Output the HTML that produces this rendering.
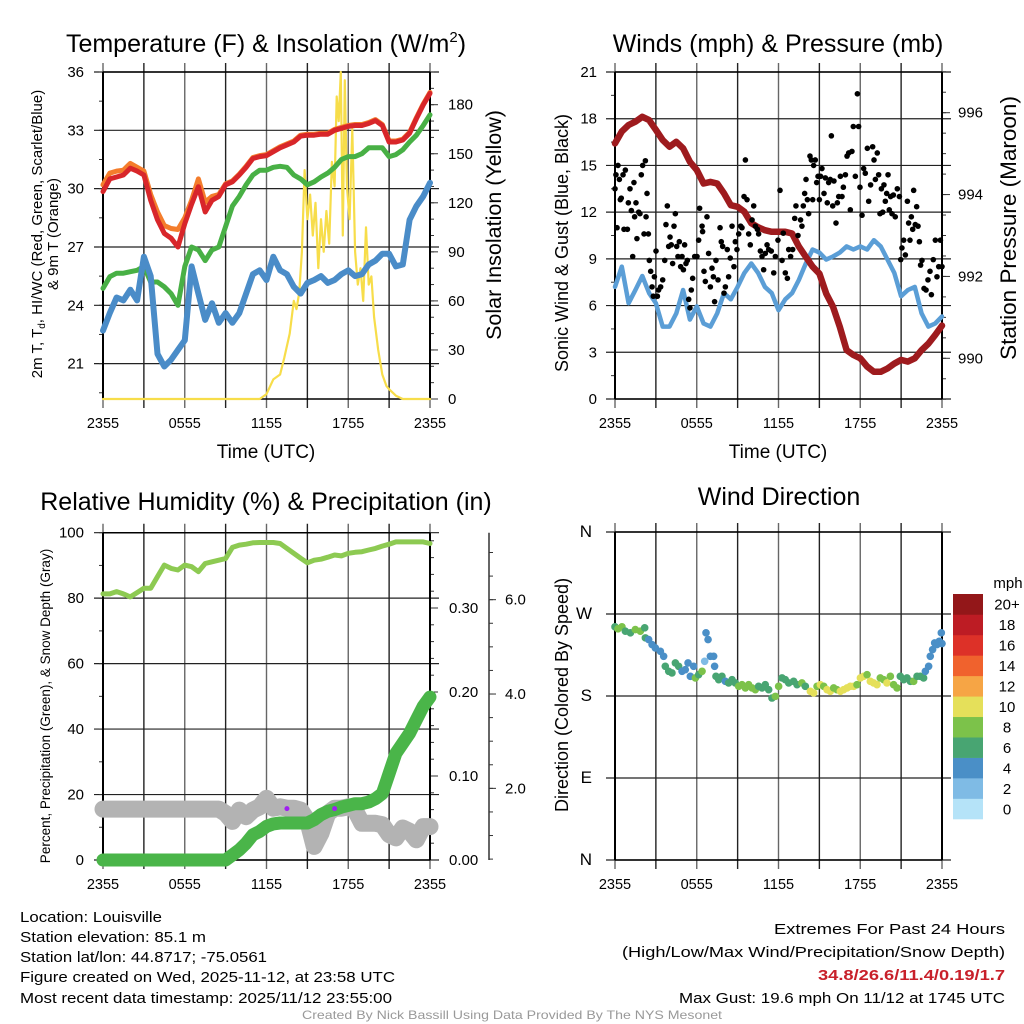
<!DOCTYPE html>
<html><head><meta charset="utf-8"><style>
html,body{margin:0;padding:0;background:#fff;}
svg{display:block;font-family:"Liberation Sans",Arial,sans-serif;}
</style></head><body>
<svg id="chart" width="1024" height="1024" viewBox="0 0 1024 1024" xmlns="http://www.w3.org/2000/svg">
<g id="bg"></g>
<text x="266" y="52" font-size="25" text-anchor="middle">Temperature (F) &amp; Insolation (W/m<tspan font-size="15" dy="-10">2</tspan><tspan dy="10">)</tspan></text>
<text x="778" y="52" font-size="25" text-anchor="middle">Winds (mph) &amp; Pressure (mb)</text>
<text x="266" y="510" font-size="25" text-anchor="middle">Relative Humidity (%) &amp; Precipitation (in)</text>
<text x="779" y="505" font-size="25" text-anchor="middle">Wind Direction</text>
<text transform="translate(42,234) rotate(-90)" font-size="15" text-anchor="middle">2m T, T<tspan font-size="10" dy="3">d</tspan><tspan dy="-3">, HI/WC (Red, Green, Scarlet/Blue)</tspan></text>
<text transform="translate(58,234) rotate(-90)" font-size="15" text-anchor="middle">&amp; 9m T (Orange)</text>
<text transform="translate(501,225) rotate(-90)" font-size="21.5" text-anchor="middle">Solar Insolation (Yellow)</text>
<text transform="translate(568,243) rotate(-90)" font-size="18" text-anchor="middle">Sonic Wind &amp; Gust (Blue, Black)</text>
<text transform="translate(1016,228) rotate(-90)" font-size="22.5" text-anchor="middle">Station Pressure (Maroon)</text>
<text transform="translate(50,706) rotate(-90)" font-size="13.5" text-anchor="middle">Percent, Precipitation (Green), &amp; Snow Depth (Gray)</text>
<text transform="translate(568,695) rotate(-90)" font-size="18" text-anchor="middle">Direction (Colored By Speed)</text>
<text x="266" y="458" font-size="19" text-anchor="middle">Time (UTC)</text>
<text x="778" y="458" font-size="19" text-anchor="middle">Time (UTC)</text>
<g font-size="14.5">
<text x="20" y="922" textLength="142" lengthAdjust="spacingAndGlyphs">Location: Louisville</text>
<text x="20" y="942" textLength="186" lengthAdjust="spacingAndGlyphs">Station elevation: 85.1 m</text>
<text x="20" y="962" textLength="247" lengthAdjust="spacingAndGlyphs">Station lat/lon: 44.8717; -75.0561</text>
<text x="20" y="982" textLength="375" lengthAdjust="spacingAndGlyphs">Figure created on Wed, 2025-11-12, at 23:58 UTC</text>
<text x="20" y="1003" textLength="372" lengthAdjust="spacingAndGlyphs">Most recent data timestamp: 2025/11/12 23:55:00</text>
</g>
<g font-size="14.5" text-anchor="end">
<text x="1005" y="934" textLength="231" lengthAdjust="spacingAndGlyphs">Extremes For Past 24 Hours</text>
<text x="1005" y="957" textLength="383" lengthAdjust="spacingAndGlyphs">(High/Low/Max Wind/Precipitation/Snow Depth)</text>
<text x="1005" y="980" font-weight="bold" fill="#c8202a" textLength="187" lengthAdjust="spacingAndGlyphs">34.8/26.6/11.4/0.19/1.7</text>
<text x="1005" y="1003" textLength="326" lengthAdjust="spacingAndGlyphs">Max Gust: 19.6 mph On 11/12 at 1745 UTC</text>
</g>
<text x="512" y="1019" font-size="12" fill="#999" text-anchor="middle" textLength="420" lengthAdjust="spacingAndGlyphs">Created By Nick Bassill Using Data Provided By The NYS Mesonet</text>
<g id="plots"></g>
</svg>
<script>
// ---------- data (half-hourly, hour index 0..48 -> 0..24 h) ----------
const xTickLabels = ["2355","0555","1155","1755","2355"];
const tempRed = [29.85,30.5,30.6,30.7,31.05,30.9,30.7,29.4,28.4,27.7,27.45,27.0,28.2,29.2,30.1,28.8,29.4,29.6,30.2,30.35,30.7,31.1,31.55,31.65,31.7,31.9,32.1,32.25,32.4,32.7,32.75,32.75,32.8,32.8,33.0,33.1,33.2,33.25,33.25,33.35,33.5,33.25,32.4,32.4,32.5,32.85,33.6,34.3,34.9];
const tempOrange = [30.2,30.8,30.9,30.95,31.3,31.1,30.9,29.7,28.8,28.1,27.95,27.9,28.5,29.4,30.5,29.3,29.6,29.7,30.25,30.4,30.75,31.15,31.6,31.7,31.75,31.95,32.15,32.3,32.45,32.75,32.8,32.8,32.85,32.85,33.05,33.15,33.25,33.3,33.3,33.4,33.55,33.3,32.45,32.45,32.55,32.9,33.65,34.35,34.95];
const tempGreen = [24.87,25.47,25.65,25.65,25.73,25.8,26.0,25.2,25.2,24.95,24.6,24.0,26.0,27.0,26.85,26.3,26.85,27.0,28.05,29.1,29.6,30.2,30.7,30.95,30.95,31.1,31.15,31.1,30.7,30.5,30.2,30.35,30.6,30.8,31.1,31.5,31.65,31.65,31.8,32.1,32.1,32.1,31.65,31.75,32.0,32.4,32.75,33.25,33.8];
const tempBlue = [22.7,23.6,24.4,24.25,24.8,24.25,26.5,25.5,21.5,20.85,21.2,21.7,22.2,26.0,24.6,23.25,24.1,23.1,23.6,23.1,23.6,24.6,25.6,25.8,25.3,26.5,25.8,25.6,24.95,24.6,25.15,25.3,25.5,25.15,25.3,25.6,25.8,25.5,25.6,26.1,26.3,26.65,26.65,26.0,26.1,28.4,29.1,29.6,30.3];
const solarHours = [0,11.5,12,12.5,13,13.3,13.7,14,14.2,14.4,14.6,14.8,15,15.2,15.4,15.6,15.8,16,16.2,16.4,16.6,16.8,17,17.15,17.3,17.45,17.6,17.75,17.9,18.1,18.3,18.5,18.7,18.9,19.1,19.3,19.5,19.7,19.9,20.2,20.5,20.8,21,21.5,22,24];
const solarValues = [0,0,3,12,15,25,40,60,55,65,90,140,110,125,100,120,80,110,90,115,95,145,130,185,170,200,100,195,130,110,165,90,70,80,60,105,70,75,50,30,15,8,6,2,0,0];
const windSpeed = [7.2,8.5,6.15,7.0,7.9,6.8,6.15,4.65,4.65,5.5,7.0,5.1,5.95,4.85,4.65,5.5,6.8,6.4,7.2,8.1,8.7,8.1,7.2,6.8,5.7,6.4,6.8,7.65,8.7,9.6,9.4,8.95,9.15,9.4,9.8,9.6,9.8,9.6,10.2,9.8,8.95,8.1,6.6,7.0,7.2,5.5,4.65,4.85,5.3];
const pressure = [995.25,995.54,995.7,995.78,995.9,995.82,995.58,995.33,995.17,995.29,995.13,994.8,994.6,994.27,994.31,994.27,994.03,993.74,993.7,993.58,993.3,993.2,993.13,993.09,993.09,993.09,993.05,992.73,992.48,992.24,992.07,991.58,991.26,990.77,990.2,990.08,990.0,989.8,989.67,989.67,989.75,989.87,989.96,989.92,990.0,990.2,990.36,990.57,990.8];
const gustHours = [0.0,0.07,0.22,0.15,0.32,0.46,0.59,0.76,0.39,0.66,0.91,0.98,1.10,1.20,1.30,1.39,1.44,1.54,1.61,1.74,1.83,1.93,2.03,2.13,2.23,2.28,2.35,2.45,2.52,2.62,2.72,2.81,2.89,3.01,3.11,3.20,3.35,3.50,3.65,3.74,3.84,3.94,4.04,4.13,4.23,4.33,4.43,4.53,4.62,4.72,4.82,4.92,5.02,5.11,5.21,5.31,5.41,5.50,5.60,5.70,5.85,6.02,6.14,6.21,6.39,6.43,6.53,6.63,6.75,6.87,7.00,7.12,7.22,7.31,7.41,7.56,7.71,7.80,7.90,8.00,8.10,8.24,8.34,8.46,8.59,8.73,8.83,8.95,9.08,9.22,9.32,9.47,9.57,9.69,9.81,9.93,10.06,10.18,10.30,10.45,10.54,10.67,10.79,10.91,11.03,11.16,11.28,11.47,11.65,11.77,11.96,12.11,12.26,12.35,12.50,12.65,12.75,12.89,13.04,13.19,13.28,13.43,13.62,13.72,13.82,13.92,14.02,14.12,14.21,14.31,14.41,14.51,14.58,14.70,14.80,14.90,15.00,15.09,15.19,15.34,15.44,15.58,15.68,15.80,15.88,15.98,16.07,16.22,16.32,16.42,16.54,16.66,16.76,16.91,17.03,17.15,17.27,17.39,17.49,17.64,17.79,17.88,17.98,18.13,18.25,18.37,18.52,18.62,18.76,18.91,19.01,19.11,19.25,19.35,19.45,19.55,19.65,19.74,19.84,19.94,20.04,20.13,20.23,20.33,20.43,20.57,20.72,20.87,20.97,21.06,21.19,21.31,21.46,21.55,21.65,21.75,21.85,21.92,22.04,22.14,22.24,22.34,22.43,22.53,22.68,22.83,22.97,23.12,23.22,23.36,23.51,23.63,23.76,23.88,24.0];
const gustValues = [13.5,14.4,15.0,11.0,14.1,12.9,14.4,14.7,12.8,10.9,10.9,12.6,13.5,12.1,9.15,13.9,11.7,12.6,10.3,12.0,11.9,14.4,15.0,10.6,15.3,11.7,13.2,10.6,8.9,8.2,7.2,6.6,7.85,9.5,6.6,7.0,7.2,7.65,8.9,11.2,12.4,9.8,10.4,9.9,8.7,11.1,11.9,9.8,9.15,10.1,8.5,9.15,8.3,9.9,8.7,8.9,6.4,5.85,7.0,7.75,9.15,9.15,10.2,12.25,11.1,10.75,8.2,7.55,11.7,9.35,7.2,8.4,7.85,6.25,8.9,7.65,11.0,10.1,9.8,6.8,7.2,9.6,7.85,9.05,11.1,8.5,10.1,9.6,10.6,11.1,11.0,13.0,15.35,12.8,10.6,9.9,11.5,12.4,11.1,10.9,10.6,9.5,9.15,8.3,9.35,9.9,9.6,9.5,8.1,9.15,10.2,13.4,8.9,10.65,8.1,7.75,9.6,9.15,9.6,11.6,12.4,10.5,11.5,11.1,12.4,13.2,14.1,12.8,11.9,15.6,15.35,12.8,15.0,15.35,13.9,14.3,12.8,14.3,14.8,13.2,14.2,12.6,13.9,14.1,16.9,12.4,14.0,11.3,12.6,13.0,14.3,13.0,13.6,14.4,15.6,15.8,12.15,15.9,17.5,14.3,19.6,17.5,13.6,11.8,14.8,14.5,16.1,12.7,13.75,16.2,15.35,14.1,15.8,14.4,11.9,13.5,12.0,13.75,12.7,13.2,14.4,12.15,13.0,11.9,13.1,11.7,13.5,13.0,8.95,9.7,10.2,9.25,12.7,11.3,10.2,11.7,10.9,13.4,11.2,12.35,11.1,10.1,8.6,8.9,7.1,7.0,7.65,8.2,6.7,8.95,10.2,7.85,8.5,10.2,8.5];
const relHumidity = [81.3,81.3,82,81.3,80.4,81.7,83,83,86.6,90.1,89.1,88.6,90.1,89.6,88.1,90.6,91.1,91.6,92.1,95.5,96.2,96.5,96.9,97,97,97,96.7,95.2,93.7,92.2,90.8,91.6,91.9,92.5,93.2,92.9,93.7,94,94.2,94.7,95.2,95.9,96.5,97.2,97.2,97.2,97.2,97.2,96.7];
const precip = [0,0,0,0,0,0,0,0,0,0,0,0,0,0,0,0,0,0,0,0.006,0.012,0.02,0.03,0.034,0.04,0.043,0.044,0.044,0.044,0.044,0.044,0.048,0.054,0.058,0.06,0.063,0.065,0.067,0.067,0.069,0.073,0.079,0.103,0.127,0.139,0.151,0.167,0.183,0.194];
const snowDepth = [1.56,1.56,1.56,1.56,1.56,1.56,1.56,1.56,1.56,1.56,1.56,1.56,1.56,1.56,1.56,1.56,1.56,1.56,1.47,1.3,1.54,1.4,1.54,1.61,1.79,1.58,1.61,1.58,1.58,1.54,1.33,0.77,1.05,1.47,1.58,1.58,1.61,1.54,1.26,1.26,1.26,1.23,1.02,0.95,1.16,1.09,0.91,1.19,1.19];
const flagHours = [13.5,17.0];
const flagValues = [15.7,15.7];
const dirHours = [0.00,0.22,0.51,0.76,1.13,1.49,1.86,2.18,2.23,2.47,2.72,2.96,3.33,3.57,3.69,3.94,4.18,4.43,4.67,4.92,5.16,5.36,5.53,5.77,5.90,6.14,6.39,6.58,6.68,6.83,7.00,7.24,7.31,7.41,7.61,7.85,8.10,8.34,8.59,8.83,9.08,9.32,9.57,9.81,10.06,10.30,10.54,10.79,11.03,11.28,11.52,11.77,12.01,12.26,12.50,12.75,13.11,13.36,13.72,13.97,14.34,14.58,14.83,15.07,15.32,15.56,15.80,16.05,16.29,16.54,16.78,17.03,17.27,17.52,17.76,18.01,18.25,18.50,18.74,18.98,19.23,19.47,19.72,19.96,20.21,20.45,20.70,20.94,21.19,21.43,21.68,21.92,22.17,22.41,22.65,22.78,23.02,23.14,23.31,23.46,23.63,23.80,23.95,24.00];
const dirDegrees = [255.9,253.7,255.9,251.1,249.3,252.9,251.1,254.8,243.8,241.9,236.4,232.8,229.1,223.6,212.6,207.1,205.3,216.3,212.6,207.1,208.9,216.3,201.6,212.6,199.8,203.4,207.1,218.1,249.3,241.9,223.6,223.6,212.6,201.6,197.9,201.6,196.1,194.3,197.9,194.3,190.6,192.4,188.8,192.4,188.8,186.9,190.6,188.8,192.4,186.9,177.8,179.6,190.6,199.8,197.9,194.3,196.1,192.4,194.3,190.6,185.1,183.3,190.6,192.4,190.6,186.9,185.1,188.8,186.9,185.1,186.9,188.8,190.6,190.6,192.4,199.8,201.6,203.4,196.1,194.3,192.4,199.8,197.9,194.3,201.6,192.4,188.8,201.6,197.9,199.8,196.1,196.1,201.6,201.6,199.8,207.1,212.6,223.6,230.9,238.3,236.4,240.1,249.3,237.5];
const dirSpeeds = [7,9,9,7,7,9,9,7,7,5,5,5,5,5,7,7,7,7,7,5,5,5,5,5,9,7,9,3,5,5,5,5,5,7,7,7,5,7,7,7,9,9,9,9,9,9,7,7,7,7,7,9,9,7,7,7,7,7,9,7,11,11,9,11,9,11,11,9,9,11,11,11,11,11,9,11,11,9,11,11,11,9,9,11,9,9,9,7,7,7,7,9,7,7,7,5,5,5,5,5,5,5,5,5];
const speedLabels = ["0","2","4","6","8","10","12","14","16","18","20+"];
const speedColors = ["#b5e3f8","#7fbbe5","#4a8fc7","#48a572","#7cc24a","#e5e05a","#f6a545","#f0622d","#dd3128","#bd1c24","#931719"];

// ---------- drawing ----------
const NS = "http://www.w3.org/2000/svg";
const plots = document.getElementById("plots");
function el(tag, attrs, parent) {
  const e = document.createElementNS(NS, tag);
  for (const k in attrs) e.setAttribute(k, attrs[k]);
  (parent || plots).appendChild(e);
  return e;
}
function txt(str, attrs, parent) { const t = el("text", attrs, parent); t.textContent = str; return t; }
function lin(d0, d1, r0, r1) { return v => r0 + (v - d0) * (r1 - r0) / (d1 - d0); }

function framePanel(name, x0, x1, y0, y1) {
  const g = el("g", {});
  
  
  const xs = lin(0, 24, x0, x1);
  for (let h = 0; h <= 24; h += 3) {
    const gl = el("line", {x1: xs(h), x2: xs(h), y1: y0 - 9, y2: y1 + 9, stroke: (h % 6 === 0) ? "#666" : "#222", "stroke-width": 1.4}, g);
    
    
  }
  for (let i = 0; i < xTickLabels.length; i++) {
    const t = txt(xTickLabels[i], {x: xs(i * 6), y: y1 + 29, "font-size": 14.5, "text-anchor": "middle"}, g);
    
    
  }
  return {g, xs};
}
function hgrid(g, ys, vals, x0, x1) {
  vals.forEach(v => {
    const l = el("line", {x1: x0 - 9, x2: x1 + 9, y1: ys(v), y2: ys(v), stroke: "#222", "stroke-width": 1.2}, g);
    
    
  });
}
function leftLabels(g, ys, vals, labels, x, fs) {
  vals.forEach((v, i) => {
    const t = txt(labels[i], {x: x, y: ys(v) + 5, "font-size": fs || 15, "text-anchor": "end"}, g);
    
    
  });
}
function ticks(g, ys, lo, hi, step, x, len) {
  for (let v = lo; v <= hi + 1e-9; v += step) {
    el("line", {x1: x, x2: x + len, y1: ys(v), y2: ys(v), stroke: "#333", "stroke-width": 1}, g);
  }
}
function rightLabels(g, ys, vals, labels, x) {
  vals.forEach((v, i) => {
    const t = txt(labels[i], {x: x, y: ys(v) + 5, "font-size": 15, "text-anchor": "start"}, g);
    
    
  });
}
function polyline(name, xs, ys, hours, vals, color, w, parent) {
  const pts = vals.map((v, i) => xs(hours ? hours[i] : i / 2).toFixed(1) + "," + ys(v).toFixed(1)).join(" ");
  const p = el("polyline", {points: pts, fill: "none", stroke: color, "stroke-width": w, "stroke-linejoin": "round", "stroke-linecap": "round"}, parent);
  
  
  return p;
}
function border(g, x0, x1, y0, y1) {
  el("line", {x1: x0, x2: x0, y1: y0, y2: y1, stroke: "#000", "stroke-width": 2}, g);
  el("line", {x1: x1, x2: x1, y1: y0, y2: y1, stroke: "#000", "stroke-width": 2}, g);
  el("line", {x1: x0, x2: x1, y1: y0, y2: y0, stroke: "#000", "stroke-width": 1.5}, g);
  el("line", {x1: x0, x2: x1, y1: y1, y2: y1, stroke: "#000", "stroke-width": 1.5}, g);
}

// Panel 1: temperature
(function () {
  const x0 = 103, x1 = 430, y0 = 72, y1 = 399;
  const {g, xs} = framePanel("temperature-panel", x0, x1, y0, y1);
  const yT = lin(36, 19.18, y0, y1);
  const yS = lin(0, 200, y1, y0);
  const tv = [21,24,27,30,33,36];
  hgrid(g, yT, tv, x0, x1);
  ticks(g, yT, 19.5, 36, 1.5, x0 - 4, 4);
  leftLabels(g, yT, tv, tv.map(String), 84);
  ticks(g, yS, 0, 200, 10, x1, 4);
  ticks(g, yS, 0, 180, 30, x1, 8);
  rightLabels(g, yS, [0,30,60,90,120,150,180], ["0","30","60","90","120","150","180"], 448);
  const s = el("g", {});
  
  
  polyline("solar-insolation-line", xs, yS, solarHours, solarValues, "#f7dd4a", 2.2, s);
  polyline("dewpoint-line", xs, yT, null, tempGreen, "#48b045", 5, s);
  polyline("windchill-line", xs, yT, null, tempBlue, "#4a8cc8", 6, s);
  polyline("temp-9m-line", xs, yT, null, tempOrange, "#f47d2c", 5, s);
  polyline("temp-2m-line", xs, yT, null, tempRed, "#d8262a", 5, s);
  border(g, x0, x1, y0, y1);
})();

// Panel 2: winds
(function () {
  const x0 = 615, x1 = 942, y0 = 72, y1 = 399;
  const {g, xs} = framePanel("winds-panel", x0, x1, y0, y1);
  const yW = lin(0, 21, y1, y0);
  const yP = lin(996, 990, 112.7, 358.3);
  const wv = [0,3,6,9,12,15,18,21];
  hgrid(g, yW, wv, x0, x1);
  ticks(g, yW, 0, 21, 1.5, x0 - 4, 4);
  leftLabels(g, yW, wv, wv.map(String), 597);
  ticks(g, yP, 989, 997, 0.5, x1, 4);
  ticks(g, yP, 990, 996, 2, x1, 8);
  rightLabels(g, yP, [990,992,994,996], ["990","992","994","996"], 958);
  const s = el("g", {});
  
  
  polyline("sonic-wind-line", xs, yW, null, windSpeed, "#5b9ed6", 4.5, s);
  polyline("station-pressure-line", xs, yP, null, pressure, "#9e1b1e", 6.5, s);
  for (let i = 0; i < gustHours.length; i++) {
    const c = el("circle", {cx: xs(gustHours[i]), cy: yW(gustValues[i]), r: 2.8, fill: "#000"}, s);
    
    
  }
  border(g, x0, x1, y0, y1);
})();

// Panel 3: humidity / precipitation
(function () {
  const x0 = 103, x1 = 430, y0 = 532.7, y1 = 860;
  const {g, xs} = framePanel("humidity-panel", x0, x1, y0, y1);
  const yH = lin(0, 100, y1, y0);
  const yPr = lin(0, 0.1, y1, y1 - 84);
  const ySn = v => 882.7 - 47.17 * v;
  const hv = [0,20,40,60,80,100];
  hgrid(g, yH, hv, x0, x1);
  ticks(g, yH, 0, 100, 10, x0 - 4, 4);
  leftLabels(g, yH, hv, hv.map(String), 84);
  ticks(g, yPr, 0, 0.38, 0.02, x1, 4);
  ticks(g, yPr, 0, 0.3, 0.1, x1, 8);
  rightLabels(g, yPr, [0,0.1,0.2,0.3], ["0.00","0.10","0.20","0.30"], 449);
  el("line", {x1: 489, x2: 489, y1: y0, y2: y1, stroke: "#333", "stroke-width": 1.5}, g);
  ticks(g, ySn, 0.5, 7.0, 0.5, 489, 4);
  ticks(g, ySn, 2, 6, 2, 489, 7);
  rightLabels(g, ySn, [2,4,6], ["2.0","4.0","6.0"], 505);
  const s = el("g", {});
  
  
  polyline("snow-depth-line", xs, ySn, null, snowDepth, "#b3b3b3", 17, s);
  polyline("precipitation-line", xs, yPr, null, precip, "#4ab549", 13, s);
  polyline("relative-humidity-line", xs, yH, null, relHumidity, "#8dca52", 5, s);
  for (let i = 0; i < flagHours.length; i++) {
    const c = el("circle", {cx: xs(flagHours[i]), cy: yH(flagValues[i]), r: 2.5, fill: "#a020f0"}, s);
    
    
  }
  border(g, x0, x1, y0, y1);
})();

// Panel 4: wind direction
(function () {
  const x0 = 615, x1 = 942, y0 = 532, y1 = 860;
  const {g, xs} = framePanel("wind-direction-panel", x0, x1, y0, y1);
  const yD = lin(0, 360, y1, y0);
  const dv = [0,90,180,270,360];
  hgrid(g, yD, dv, x0, x1);
  leftLabels(g, yD, dv, ["N","E","S","W","N"], 592, 17);
  const s = el("g", {});
  
  
  for (let i = 0; i < dirHours.length; i++) {
    const k = Math.min(10, Math.floor(dirSpeeds[i] / 2));
    const c = el("circle", {cx: xs(dirHours[i]), cy: yD(dirDegrees[i]), r: 3.8, fill: speedColors[k]}, s);
    
    
  }
  border(g, x0, x1, y0, y1);
  const cb = el("g", {});
  
  
  const t = txt("mph", {x: 1008, y: 588, "font-size": 15, "text-anchor": "middle"}, cb);
  
  
  const bh = (819 - 594) / speedColors.length;
  for (let k = 0; k < speedColors.length; k++) {
    const yTop = 819 - (k + 1) * bh;
    const r = el("rect", {x: 953, y: yTop, width: 30, height: bh + 0.3, fill: speedColors[k]}, cb);
    
    
    const l = txt(speedLabels[k], {x: 1007, y: yTop + bh / 2 + 5.5, "font-size": 15, "text-anchor": "middle"}, cb);
    
    
  }
})();
</script>
</body></html>
